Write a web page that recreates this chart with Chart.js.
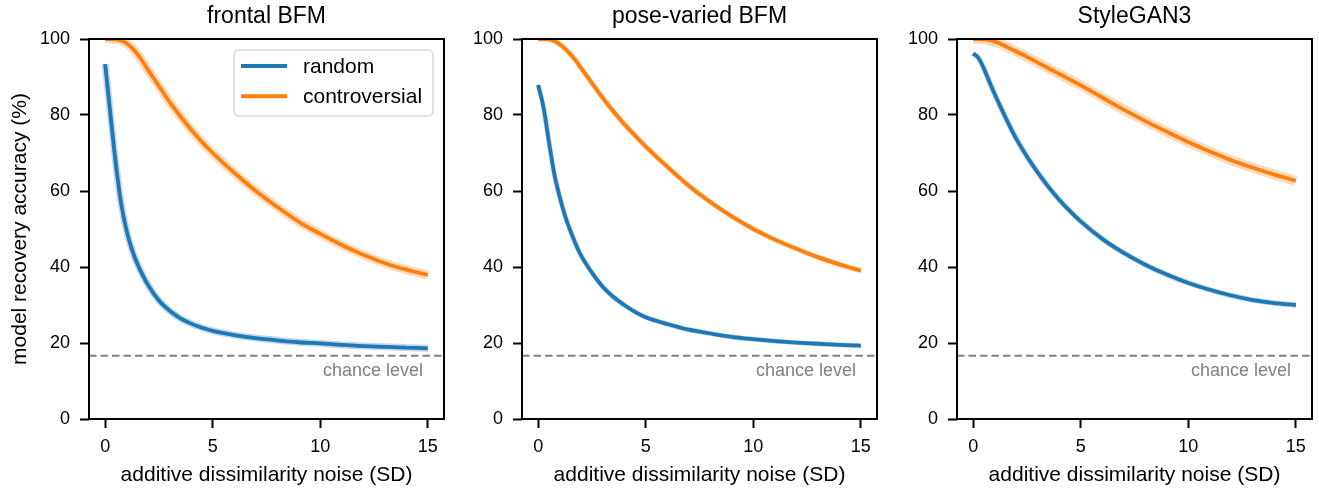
<!DOCTYPE html>
<html>
<head>
<meta charset="utf-8">
<script src="https://cdn.jsdelivr.net/npm/chart.js@4"></script>
<style>
  body { margin: 0; background: #fff; }
  .panel { position: absolute; top: 0; }
  canvas { display: block; }
</style>
</head>
<body>
<div class="panel" style="left:0px"><canvas id="p1" width="450" height="488"></canvas></div>
<div class="panel" style="left:450px"><canvas id="p2" width="435" height="488"></canvas></div>
<div class="panel" style="left:885px"><canvas id="p3" width="434" height="488"></canvas></div>
<script>
// noise levels (SD) shared by all three panels
const noise = [0, 0.25, 0.5, 0.75, 1, 1.25, 1.5, 1.75, 2, 2.5, 3, 3.5, 4, 4.5, 5, 6, 7, 8, 9, 10, 11, 12, 13, 14, 15];

// model recovery accuracy (%)
const frontalRandom = [93.4, 80, 67, 56.5, 49.5, 44.5, 40.8, 37.8, 35.2, 31.2, 28.5, 26.5, 25.1, 24.0, 23.2, 22.1, 21.3, 20.7, 20.2, 19.9, 19.5, 19.2, 19.0, 18.8, 18.6];
const frontalControversial = [100, 100, 99.9, 99.6, 98.8, 97.6, 96.0, 94.0, 91.8, 87.6, 83.4, 79.6, 76.1, 72.9, 70.0, 64.8, 60.0, 55.8, 51.9, 48.7, 45.8, 43.2, 41.0, 39.3, 37.9];
const poseRandom = [87.9, 82, 73, 64.5, 58.5, 53.5, 49.5, 46, 43, 38.5, 34.8, 32.1, 30, 28.2, 26.8, 25, 23.5, 22.5, 21.6, 21.0, 20.5, 20.1, 19.8, 19.5, 19.3];
const poseControversial = [100, 100, 99.9, 99.5, 98.6, 97.4, 96.0, 94.3, 92.3, 88.4, 84.5, 80.9, 77.6, 74.6, 71.7, 66.4, 61.4, 57.1, 53.3, 50.0, 47.2, 44.8, 42.6, 40.7, 39.0];
const styleRandom = [96.2, 95.0, 92.2, 88.8, 85.5, 82.4, 79.4, 76.5, 73.8, 69.1, 64.9, 61.1, 57.7, 54.7, 52.0, 47.4, 43.7, 40.6, 38.0, 35.8, 34.0, 32.5, 31.3, 30.5, 30.0];
const styleControversial = [100, 100, 99.9, 99.7, 99.3, 98.8, 98.1, 97.4, 96.7, 95.3, 93.8, 92.3, 90.8, 89.3, 87.8, 84.6, 81.4, 78.4, 75.6, 72.9, 70.4, 68.1, 66.1, 64.3, 62.7];

const chanceLevel = 16.67;
const xTicks = [0, 5, 10, 15];
const yTicks = [0, 20, 40, 60, 80, 100];

const BLUE = '#1f77b4';
const ORANGE = '#ff7f0e';

Chart.defaults.font.family = '"Liberation Sans", Arial, sans-serif';
Chart.defaults.font.size = 18;
Chart.defaults.color = '#000';

// frame, chance line and the boxed legend
const decorations = {
  id: 'decorations',
  beforeDatasetsDraw(chart) {
    const { ctx, chartArea: a, scales: { y } } = chart;
    const py = y.getPixelForValue(chanceLevel);
    ctx.save();
    ctx.strokeStyle = '#808080';
    ctx.lineWidth = 2;
    ctx.setLineDash([7.5, 4]);
    ctx.beginPath();
    ctx.moveTo(a.left, py);
    ctx.lineTo(a.right, py);
    ctx.stroke();
    ctx.setLineDash([]);
    ctx.fillStyle = '#808080';
    ctx.font = '18px "Liberation Sans", Arial, sans-serif';
    ctx.textAlign = 'right';
    ctx.textBaseline = 'alphabetic';
    ctx.fillText('chance level', a.right - 21, py + 20.5);
    ctx.restore();
  },
  afterDraw(chart) {
    const { ctx, chartArea: a } = chart;
    ctx.save();
    ctx.strokeStyle = '#000';
    ctx.lineWidth = 2;
    ctx.strokeRect(a.left, a.top, a.right - a.left, a.bottom - a.top);

    if (chart.options.plugins.boxLegend) {
      const x0 = a.right - 210, y0 = a.top + 11;
      ctx.beginPath();
      ctx.roundRect(x0, y0, 199, 66, 5);
      ctx.fillStyle = 'rgba(255,255,255,0.8)';
      ctx.fill();
      ctx.strokeStyle = '#d9d9d9';
      ctx.lineWidth = 1.5;
      ctx.stroke();
      const items = chart.data.datasets.filter(d => !d.band);
      ctx.font = '21px "Liberation Sans", Arial, sans-serif';
      ctx.textAlign = 'left';
      ctx.textBaseline = 'middle';
      items.forEach((d, i) => {
        const ly = y0 + 16 + i * 30.3;
        ctx.strokeStyle = d.borderColor;
        ctx.lineWidth = 4;
        ctx.beginPath();
        ctx.moveTo(x0 + 7, ly);
        ctx.lineTo(x0 + 53, ly);
        ctx.stroke();
        ctx.fillStyle = '#000';
        ctx.fillText(d.label, x0 + 69, ly + 1);
      });
    }
    ctx.restore();
  }
};

function points(values) {
  return noise.map((x, i) => ({ x: x, y: values[i] }));
}

function lineSet(label, values, color) {
  return {
    label: label,
    data: points(values),
    borderColor: color,
    borderWidth: 3.8,
    pointRadius: 0,
    cubicInterpolationMode: 'monotone',
    fill: false,
    order: 0
  };
}

function bandSet(values, color, width) {
  return {
    band: true,
    label: '',
    data: points(values),
    borderColor: color,
    borderWidth: width,
    pointRadius: 0,
    cubicInterpolationMode: 'monotone',
    fill: false,
    order: 10
  };
}

function makePanel(id, title, randomVals, controversialVals, opts) {
  new Chart(document.getElementById(id), {
    type: 'line',
    data: {
      datasets: [
        lineSet('random', randomVals, BLUE),
        lineSet('controversial', controversialVals, ORANGE),
        bandSet(randomVals, 'rgba(31,119,180,0.28)', opts.blueBand),
        bandSet(controversialVals, 'rgba(255,127,14,0.28)', opts.orangeBand)
      ]
    },
    options: {
      responsive: false,
      animation: false,
      layout: { padding: { left: 0, right: opts.padRight, top: 0, bottom: 0 } },
      plugins: {
        legend: { display: false },
        tooltip: { enabled: false },
        title: {
          display: true,
          text: title,
          fullSize: false,
          font: { size: 23, weight: 'normal' },
          padding: { top: 3, bottom: 8.4 }
        },
        boxLegend: opts.legend
      },
      scales: {
        x: {
          type: 'linear',
          min: -0.75,
          max: 15.75,
          afterBuildTicks: s => { s.ticks = xTicks.map(v => ({ value: v })); },
          afterFit: s => { s.height = 69; },
          border: { display: false },
          grid: { drawOnChartArea: false, drawTicks: true, tickLength: 9, tickColor: '#000', tickWidth: 2 },
          ticks: { font: { size: 18 }, padding: 7.9, maxRotation: 0 },
          title: {
            display: true,
            text: 'additive dissimilarity noise (SD)',
            font: { size: 21 },
            padding: { top: 0, bottom: 0.2 }
          }
        },
        y: {
          min: 0,
          max: 100,
          afterBuildTicks: s => { s.ticks = yTicks.map(v => ({ value: v })); },
          afterFit: s => { s.width = opts.yWidth; },
          border: { display: false },
          grid: { drawOnChartArea: false, drawTicks: true, tickLength: 9, tickColor: '#000', tickWidth: 2 },
          ticks: { font: { size: 18 }, padding: 10 },
          title: {
            display: opts.yTitle,
            text: 'model recovery accuracy (%)',
            font: { size: 21 },
            padding: { top: 7.4, bottom: 0 }
          }
        }
      }
    },
    plugins: [decorations]
  });
}

makePanel('p1', 'frontal BFM', frontalRandom, frontalControversial,
  { padRight: 6, yWidth: 89, yTitle: true, legend: true, blueBand: 7, orangeBand: 9 });
makePanel('p2', 'pose-varied BFM', poseRandom, poseControversial,
  { padRight: 8, yWidth: 72, yTitle: false, legend: false, blueBand: 5, orangeBand: 5.5 });
makePanel('p3', 'StyleGAN3', styleRandom, styleControversial,
  { padRight: 7, yWidth: 72, yTitle: false, legend: false, blueBand: 5.5, orangeBand: 10 });
</script>
</body>
</html>
